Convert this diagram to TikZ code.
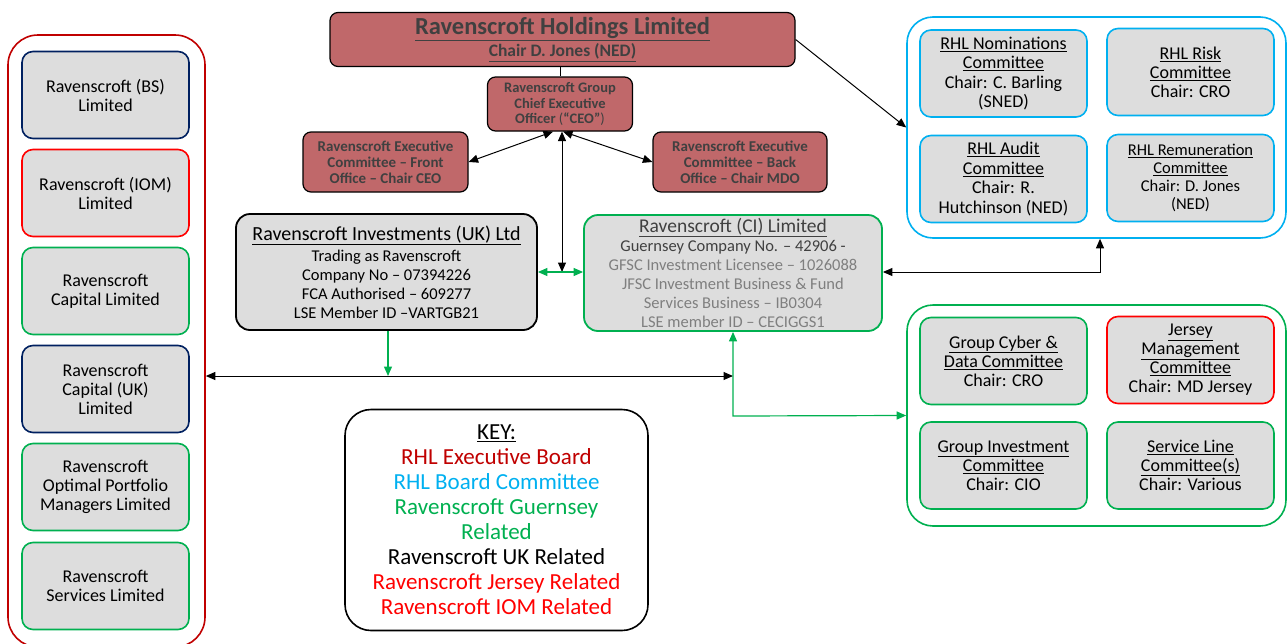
\documentclass[tikz,border=0pt]{standalone}
\usepackage{fontspec}
\setmainfont{Carlito}
\usetikzlibrary{arrows.meta}
\definecolor{holdred}{HTML}{C0686A}
\definecolor{boxgray}{HTML}{DDDDDD}
\definecolor{rhlblue}{HTML}{00B0F0}
\definecolor{gsygreen}{HTML}{00B050}
\definecolor{jsyred}{HTML}{FF0000}
\definecolor{execred}{HTML}{C00000}
\definecolor{bsnavy}{HTML}{002060}
\definecolor{darktext}{HTML}{404040}
\definecolor{lighttext}{HTML}{7F7F7F}
\newcommand{\uln}[1]{\underline{#1}}
\tikzset{
  unitbox/.style={draw, line width=1.6pt, rounded corners=11pt, fill=boxgray, align=center,
    minimum width=167pt, minimum height=87pt, inner sep=1pt, font=\fontsize{18}{19}\selectfont},
  execbox/.style={draw=black, line width=1.2pt, rounded corners=8pt, fill=holdred, align=center,
    text=darktext, inner sep=1pt, font=\bfseries\fontsize{15}{16}\selectfont},
  infobox/.style={line width=1.8pt, rounded corners=14pt, fill=boxgray, align=center,
    minimum height=116pt, inner sep=1pt, font=\fontsize{16.5}{19}\selectfont},
  groupbox/.style={line width=1.6pt, rounded corners=26pt, minimum width=379pt, minimum height=221pt},
  link/.style={line width=1pt, >={Triangle[length=9.5pt,width=8pt]}, <->},
  glink/.style={link, draw=gsygreen, line width=1.2pt},
}
\begin{document}
\begin{tikzpicture}[x=1pt,y=-1pt]
\useasboundingbox (0,0) rectangle (1288,643);

% executive board
\node[execbox, minimum width=465pt, minimum height=54pt, font=\bfseries\fontsize{24.5}{22}\selectfont] (hold) at (562.5,39.5)
  {\uln{Ravenscroft Holdings Limited}\\[0pt]{\fontsize{17.5}{18}\selectfont\uln{Chair D. Jones (NED)}}};
\node[execbox, minimum width=145pt, minimum height=54pt, font=\bfseries\fontsize{14.5}{15.5}\selectfont] (ceo) at (560,104)
  {Ravenscroft Group\\Chief Executive\\Officer {\mdseries(}``CEO''{\mdseries)}};
\node[execbox, minimum width=165pt, minimum height=60pt] (front) at (385.5,162)
  {Ravenscroft Executive\\Committee -- Front\\Office -- Chair CEO};
\node[execbox, minimum width=174pt, minimum height=60pt] (back) at (740,162)
  {Ravenscroft Executive\\Committee -- Back\\Office -- Chair MDO};

% operating companies
\node[infobox, draw=black, minimum width=301pt] (uk) at (386.5,272)
  {{\fontsize{20}{19}\selectfont\uln{Ravenscroft Investments (UK) Ltd}}\\[2pt]Trading as Ravenscroft\\Company No -- 07394226\\FCA Authorised -- 609277\\LSE Member ID --VARTGB21};
\node[infobox, draw=gsygreen, minimum width=298pt, text=lighttext] (ci) at (733,273)
  {{\fontsize{19.5}{19}\selectfont\color{darktext}\uln{Ravenscroft (CI) Limited}}\\{\color{darktext}Guernsey Company No. -- 42906 -}\\GFSC Investment Licensee -- 1026088\\JFSC Investment Business \& Fund\\Services Business -- IB0304\\LSE member ID -- CECIGGS1};

% subsidiaries
\node[draw=execred, line width=1.6pt, rounded corners=30pt, minimum width=197pt, minimum height=612pt] (subs) at (106.5,341) {};
\node[unitbox, draw=bsnavy] (bs) at (105.5,95) {Ravenscroft (BS)\\Limited};
\node[unitbox, draw=jsyred] (iom) at (105.5,193) {Ravenscroft (IOM)\\Limited};
\node[unitbox, draw=gsygreen] (cap) at (105.5,291) {Ravenscroft\\Capital Limited};
\node[unitbox, draw=bsnavy] (capuk) at (105.5,389) {Ravenscroft\\Capital (UK)\\Limited};
\node[unitbox, draw=gsygreen] (opm) at (105.5,487) {Ravenscroft\\Optimal Portfolio\\Managers Limited};
\node[unitbox, draw=gsygreen] (serv) at (105.5,586) {Ravenscroft\\Services Limited};

% board committees
\node[groupbox, draw=rhlblue] (blu) at (1096.5,127.5) {};
\node[unitbox, draw=rhlblue, font=\fontsize{18}{19.5}\selectfont] (nom) at (1003.5,73.5) {\uln{RHL Nominations}\\\uln{Committee}\\Chair: C. Barling\\(SNED)};
\node[unitbox, draw=rhlblue] (risk) at (1190.5,72) {\uln{RHL Risk}\\\uln{Committee}\\Chair: CRO};
\node[unitbox, draw=rhlblue, font=\fontsize{18}{19.5}\selectfont] (aud) at (1003.5,179) {\uln{RHL Audit}\\\uln{Committee}\\Chair: R.\\Hutchinson (NED)};
\node[unitbox, draw=rhlblue, font=\fontsize{16.5}{18}\selectfont] (rem) at (1190.5,178) {\uln{RHL Remuneration}\\\uln{Committee}\\Chair: D. Jones\\(NED)};

% guernsey committees
\node[groupbox, draw=gsygreen] (grn) at (1096.5,415.5) {};
\node[unitbox, draw=gsygreen] (cyb) at (1003.5,361) {\uln{Group Cyber \&}\\\uln{Data Committee}\\Chair: CRO};
\node[unitbox, draw=jsyred] (jsy) at (1190.5,360) {\uln{Jersey}\\\uln{Management}\\\uln{Committee}\\Chair: MD Jersey};
\node[unitbox, draw=gsygreen] (inv) at (1003.5,465.5) {\uln{Group Investment}\\\uln{Committee}\\Chair: CIO};
\node[unitbox, draw=gsygreen] (slc) at (1190.5,465.5) {\uln{Service Line}\\\uln{Committee(s)}\\Chair: Various};

% key
\node[draw=black, line width=1.6pt, rounded corners=26pt, minimum width=303pt, minimum height=221pt, align=center,
  inner sep=1pt, font=\fontsize{23}{25}\selectfont] (key) at (496.5,520)
  {\uln{KEY:}\\{\color{execred}RHL Executive Board}\\{\color{rhlblue}RHL Board Committee}\\{\color{gsygreen}Ravenscroft Guernsey}\\{\color{gsygreen}Related}\\Ravenscroft UK Related\\{\color{jsyred}Ravenscroft Jersey Related}\\{\color{jsyred}Ravenscroft IOM Related}};

% connectors
\coordinate (busL) at (subs.east |- 0,376);
\coordinate (busR) at (ci.south |- 0,376);
\coordinate (cijoin) at (ci.south |- 0,416);
\draw[line width=1pt] (ceo.north |- hold.south) -- (ceo.north);
\draw[link] ([xshift=-7pt]ceo.south) -- (front.east);
\draw[link] ([xshift=3pt]ceo.south) -- (back.west);
\draw[link] ([xshift=2pt]ceo.south) -- ([xshift=2pt]ceo.south |- uk.east);
\draw[glink] (uk.east) -- (ci.west |- uk.east);
\draw[glink, <-] ([xshift=1.5pt]uk.south |- busL) -- ([xshift=1.5pt]uk.south);
\draw[link] (busL) -- (busR);
\draw[glink] (ci.south) -- (cijoin) -- (grn.west);
\draw[link] (ci.east |- uk.east) -| ([xshift=3.5pt]blu.south);
\draw[link, ->] (hold.east) -- (blu.west);
\end{tikzpicture}
\end{document}
